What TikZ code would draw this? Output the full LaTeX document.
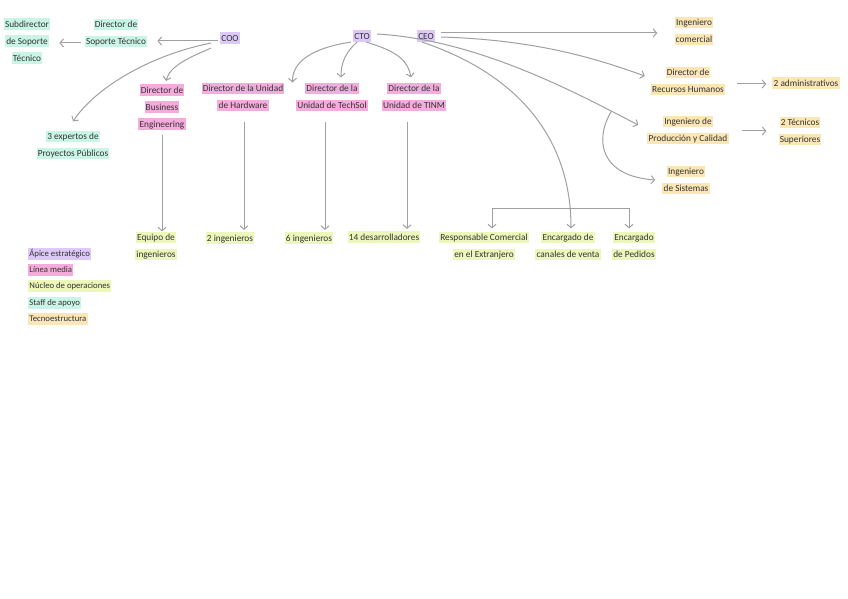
\documentclass[tikz,border=0pt]{standalone}
\usepackage{fontspec}
\setmainfont{Carlito}
\usetikzlibrary{arrows.meta}
\definecolor{apice}{HTML}{DCC9F7}
\definecolor{linea}{HTML}{F6ABDD}
\definecolor{nucleo}{HTML}{ECF7B9}
\definecolor{staff}{HTML}{C9F5E7}
\definecolor{tecno}{HTML}{FBE6B5}
\definecolor{ink}{HTML}{333333}
\definecolor{wire}{HTML}{A0A0A0}
\newcommand\hlbox[2]{{\fboxsep=1.2pt\colorbox{#1}{\vphantom{Ágy}#2}}}
\newcommand\hlA[1]{\hlbox{apice}{#1}}
\newcommand\hlL[1]{\hlbox{linea}{#1}}
\newcommand\hlN[1]{\hlbox{nucleo}{#1}}
\newcommand\hlS[1]{\hlbox{staff}{#1}}
\newcommand\hlT[1]{\hlbox{tecno}{#1}}
\begin{document}
\begin{tikzpicture}[x=1pt,y=-1pt,
  txt/.style={align=center,inner sep=0pt,text=ink,font=\fontsize{9.3}{17}\selectfont},
  leg/.style={anchor=west,inner sep=0pt,text=ink,font=\fontsize{8.7}{16}\selectfont},
  arr/.style={draw=wire,line width=1pt,-{Straight Barb[length=3.5pt,width=8pt]}}]
\useasboundingbox (0,0) rectangle (848,599);
\fill[white] (0,0) rectangle (848,599);
% top level
\node[txt] (coo) at (230,38) {\hlA{COO}};
\node[txt] (cto) at (362,36) {\hlA{CTO}};
\node[txt] (ceo) at (426,36) {\hlA{CEO}};
% staff
\node[txt] (dst) at (116,33) {\hlS{Director de}\\\hlS{Soporte Técnico}};
\node[txt] (sub) at (27,41) {\hlS{Subdirector}\\\hlS{de Soporte}\\\hlS{Técnico}};
\node[txt] (exp) at (73,145) {\hlS{3 expertos de}\\\hlS{Proyectos Públicos}};
% middle line
\node[txt] (dbe) at (162,107) {\hlL{Director de}\\\hlL{Business}\\\hlL{Engineering}};
\node[txt] (dhw) at (243,97) {\hlL{Director de la Unidad}\\\hlL{de Hardware}};
\node[txt] (dts) at (332,97) {\hlL{Director de la}\\\hlL{Unidad de TechSol}};
\node[txt] (dtm) at (414,97) {\hlL{Director de la}\\\hlL{Unidad de TINM}};
% operations
\node[txt] (eqi) at (156,246) {\hlN{Equipo de}\\\hlN{ingenieros}};
\node[txt] (i2) at (230,238) {\hlN{2 ingenieros}};
\node[txt] (i6) at (309,238) {\hlN{6 ingenieros}};
\node[txt] (d14) at (384,237) {\hlN{14 desarrolladores}};
\node[txt] (rce) at (484,246) {\hlN{Responsable Comercial}\\\hlN{en el Extranjero}};
\node[txt] (ecv) at (568,246) {\hlN{Encargado de}\\\hlN{canales de venta}};
\node[txt] (epd) at (634,246) {\hlN{Encargado}\\\hlN{de Pedidos}};
% technostructure
\node[txt] (ico) at (694,31) {\hlT{Ingeniero}\\\hlT{comercial}};
\node[txt] (rrh) at (688,81) {\hlT{Director de}\\\hlT{Recursos Humanos}};
\node[txt] (adm) at (806,83) {\hlT{2 administrativos}};
\node[txt] (ipc) at (688,130) {\hlT{Ingeniero de}\\\hlT{Producción y Calidad}};
\node[txt] (tec) at (800,131) {\hlT{2 Técnicos}\\\hlT{Superiores}};
\node[txt] (isi) at (686,180) {\hlT{Ingeniero}\\\hlT{de Sistemas}};
% legend
\node[leg] (l1) at (28,254) {\hlA{Ápice estratégico}};
\node[leg] (l2) at (28,270) {\hlL{Línea media}};
\node[leg] (l3) at (28,286) {\hlN{Núcleo de operaciones}};
\node[leg] (l4) at (28,303) {\hlS{Staff de apoyo}};
\node[leg] (l5) at (28,319) {\hlT{Tecnoestructura}};
% connectors
\draw[arr] ([xshift=-2pt,yshift=-3pt]coo.west) -- ([xshift=10pt]dst.east |- 0,41);
\draw[arr] ([xshift=-4pt]dst.west |- 0,43) -- ([xshift=9pt]sub.east |- 0,43);
\draw[arr] ([xshift=-9pt,yshift=1pt]coo.south west) .. controls (150,55) and (95,88) .. ([yshift=9pt]exp.north);
\draw[arr] ([xshift=-9pt,yshift=-4pt]coo.south west) .. controls (188,58) and (170,66) .. ([xshift=4pt,yshift=3pt]dbe.north);
\draw[arr] ([xshift=-2pt]cto.south west) .. controls (312,48) and (292,62) .. ([xshift=8pt]dhw.north east);
\draw[arr] ([xshift=-5pt]cto.south) .. controls (346,52) and (341,62) .. ([xshift=9pt,yshift=5pt]dts.north);
\draw[arr] ([xshift=4pt]cto.south) .. controls (400,52) and (408,62) .. ([xshift=-3pt,yshift=5pt]dtm.north);
\draw[arr] ([yshift=-5pt]dbe.south) -- (dbe.south |- eqi.north);
\draw[arr] ([xshift=1pt,yshift=-10pt]dhw.south) -- ([xshift=1pt,yshift=2pt]dhw.south |- i2.north);
\draw[arr] ([xshift=-7pt,yshift=-10pt]dts.south) -- ([xshift=-7pt,yshift=2pt]dts.south |- i6.north);
\draw[arr] ([xshift=-7pt,yshift=-10pt]dtm.south) -- ([xshift=-7pt,yshift=2pt]dtm.south |- d14.north);
\draw[arr] ([xshift=6pt,yshift=2pt]cto.east) .. controls (480,40) and (580,95) .. coordinate[pos=0.86] (br) ([xshift=-9pt,yshift=5pt]ipc.west);
\draw[arr] (br) .. controls (594,140) and (600,176) .. ([xshift=-7pt]isi.west);
\draw[arr] ([xshift=6pt,yshift=3pt]ceo.east) -- ([xshift=-17pt,yshift=-2pt]ico.west);
\draw[arr] ([xshift=6pt,yshift=-1pt]ceo.east) .. controls (540,40) and (600,60) .. ([xshift=-6pt,yshift=5pt]rrh.west);
\draw[arr] ([xshift=-4pt]ceo.south) .. controls (520,75) and (571,140) .. ([xshift=3pt,yshift=3pt]ecv.north);
\coordinate (fork) at (571,208);
\draw[arr] (fork) -| ([xshift=8pt,yshift=3pt]rce.north);
\draw[arr] (fork) -| ([xshift=-5pt,yshift=3pt]epd.north);
\draw[arr] ([xshift=12pt]rrh.east |- 0,84) -- ([xshift=-6pt]adm.west |- 0,84);
\draw[arr] ([xshift=13pt]ipc.east |- 0,131) -- ([xshift=-12pt]tec.west |- 0,131);
\end{tikzpicture}
\end{document}
